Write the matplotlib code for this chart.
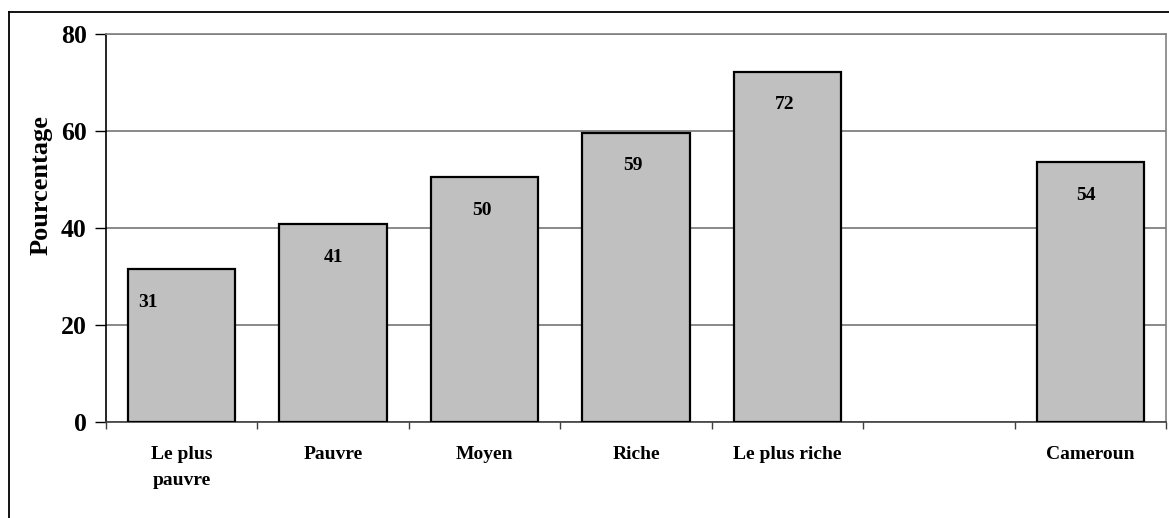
import numpy as np
import matplotlib
matplotlib.use("Agg")
import matplotlib.pyplot as plt
from matplotlib.lines import Line2D

categories = ["Le plus\npauvre", "Pauvre", "Moyen", "Riche", "Le plus riche", "", "Cameroun"]
values = [31.5, 40.8, 50.5, 59.6, 72.2, np.nan, 53.6]
labels = ["31", "41", "50", "59", "72", "", "54"]
label_shift = [-0.22, 0.0, -0.02, -0.02, -0.02, 0.0, -0.03]

plt.rcParams['font.family'] = ['Liberation Serif', 'DejaVu Serif']
plt.rcParams['font.weight'] = 'bold'

fig = plt.figure(figsize=(11.69, 5.18), dpi=100)
ax = fig.add_axes([106 / 1169, 1 - 422 / 518, 1060 / 1169, 388 / 518])

x = np.arange(len(categories))
ax.bar(x, values, width=0.71, color="#c0c0c0", edgecolor="black", linewidth=1.6, zorder=3)

for xi, v, lab, dx in zip(x, values, labels, label_shift):
    if lab:
        ax.text(xi + dx, v - 6.8, lab, ha="center", va="center", fontsize=14,
                fontweight="bold", zorder=4)

ax.set_xlim(-0.5, len(categories) - 0.5)
ax.set_ylim(0, 80)
ax.set_yticks([0, 20, 40, 60, 80])
ax.yaxis.grid(True, color="#808080", linewidth=1.3, zorder=0)

# ticks at category boundaries, labels at centers
ax.set_xticks(np.arange(len(categories) + 1) - 0.5)
ax.set_xticklabels([])
ax.set_xticks(x, minor=True)
ax.set_xticklabels(categories, minor=True, fontsize=14, fontweight="bold", linespacing=1.75)
ax.tick_params(axis="x", which="minor", length=0, pad=17)
ax.tick_params(axis="x", which="major", length=5, width=1, color="#404040", direction="out")
ax.tick_params(axis="y", length=8, width=1, labelsize=18.5, pad=6)
for t in ax.get_yticklabels():
    t.set_fontweight("bold")

ax.set_ylabel("Pourcentage", fontsize=19, fontweight="bold")
ax.yaxis.set_label_coords(-0.050, 0.61)

ax.spines["left"].set_color("black")
ax.spines["left"].set_linewidth(1.2)
ax.spines["bottom"].set_color("#404040")
ax.spines["bottom"].set_linewidth(1.2)
ax.spines["top"].set_color("#808080")
ax.spines["right"].set_color("#808080")
ax.spines["top"].set_linewidth(1.2)
ax.spines["right"].set_linewidth(1.2)

# outer chart frame (top and left edges visible)
fx, fy = 8.5 / 1169, 1 - 11.5 / 518
fig.add_artist(Line2D([fx, 1.0], [fy, fy], transform=fig.transFigure, color="black", linewidth=1.3))
fig.add_artist(Line2D([fx, fx], [0.0, fy], transform=fig.transFigure, color="black", linewidth=1.3))

fig.savefig("out.png", dpi=100)
